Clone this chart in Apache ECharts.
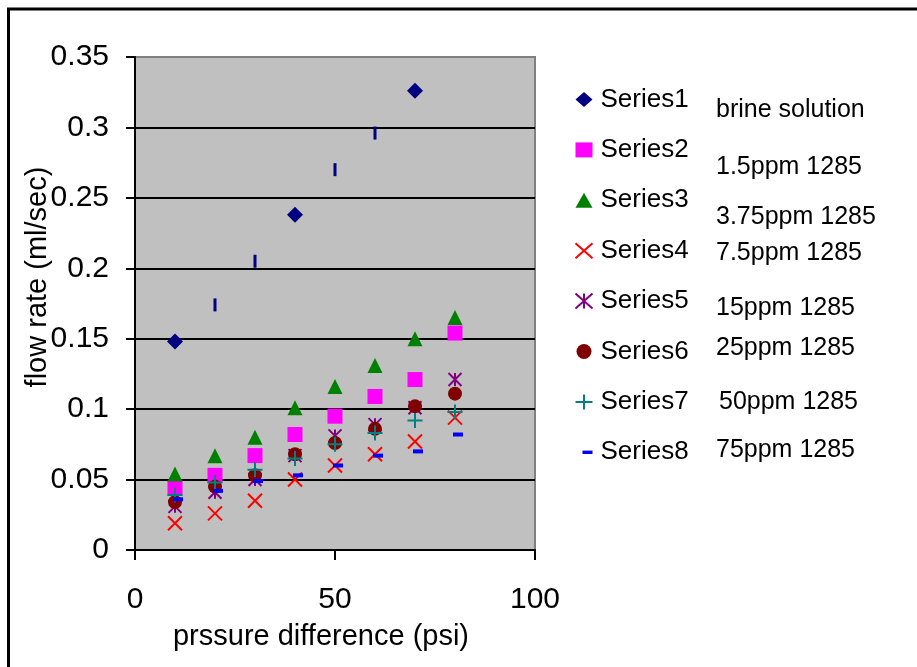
<!DOCTYPE html>
<html>
<head>
<meta charset="utf-8">
<script src="https://cdn.jsdelivr.net/npm/echarts@6/dist/echarts.min.js"></script>
<style>
  html, body { margin: 0; padding: 0; background: #fff; }
  #chart { width: 917px; height: 667px; }
</style>
</head>
<body>
<div id="chart"></div>
<script>
// ---- data ----
const pressure = [10, 20, 30, 40, 50, 60, 70, 80];
const series1X = [10, 40, 70];
const series1 = [0.148, 0.238, 0.326];
const series2 = [0.044, 0.053, 0.067, 0.082, 0.095, 0.109, 0.121, 0.154];
const series3 = [0.054, 0.067, 0.080, 0.101, 0.116, 0.131, 0.150, 0.165];
const series4 = [0.019, 0.026, 0.035, 0.050, 0.060, 0.068, 0.077, 0.094];
const series5 = [0.031, 0.041, 0.050, 0.067, 0.081, 0.089, 0.101, 0.121];
const series6 = [0.034, 0.045, 0.053, 0.068, 0.076, 0.086, 0.102, 0.111];
const series7 = [0.039, 0.048, 0.057, 0.065, 0.075, 0.083, 0.092, 0.098];
const series8 = [0.036, 0.042, 0.049, 0.053, 0.060, 0.067, 0.070, 0.082];
const extraX = [20, 30, 50, 60];
const extra = [0.174, 0.205, 0.270, 0.296];
const seriesNames = ['Series1','Series2','Series3','Series4','Series5','Series6','Series7','Series8'];
const sideLabels = ['brine solution','1.5ppm 1285','3.75ppm 1285','7.5ppm 1285','15ppm 1285','25ppm 1285','50ppm 1285','75ppm 1285'];
const xTitle = 'prssure difference (psi)';
const yTitle = 'flow rate (ml/sec)';

const FONT = "'Liberation Sans', Arial, sans-serif";
const pair = (xs, ys) => xs.map((x, i) => [x, ys[i]]);

const X_PATH = 'path://M0,0L10,10M10,0L0,10';
const PLUS_PATH = 'path://M5,0L5,10M0,5L10,5';
const AST_PATH = 'path://M0,0L10,10M10,0L0,10M5,0L5,10';

const chart = echarts.init(document.getElementById('chart'), null, { renderer: 'canvas' });

const sidePos = [
  [716, 110], [716, 167], [716, 217], [716, 253],
  [716, 308], [716, 348], [719, 402], [716, 450]
];

const option = {
  backgroundColor: '#ffffff',
  animation: false,
  grid: {
    left: 135, top: 57, right: 382, bottom: 117,
    show: true, backgroundColor: '#C0C0C0', borderColor: '#808080', borderWidth: 2
  },
  xAxis: {
    type: 'value', min: 0, max: 100, interval: 50,
    axisLine: { show: true, lineStyle: { color: '#000', width: 2 } },
    axisTick: { show: true, length: 10, lineStyle: { color: '#000', width: 2 } },
    axisLabel: { fontSize: 30, color: '#000', fontFamily: FONT, margin: 35 },
    splitLine: { show: false }
  },
  yAxis: {
    type: 'value', min: 0, max: 0.35, interval: 0.05,
    axisLine: { show: true, lineStyle: { color: '#000', width: 2 } },
    axisTick: { show: true, length: 9, lineStyle: { color: '#000', width: 2 } },
    axisLabel: { fontSize: 30, color: '#000', fontFamily: FONT, margin: 26 },
    splitLine: { show: true, showMaxLine: false, lineStyle: { color: '#000', width: 2 } }
  },
  legend: {
    orient: 'vertical', left: 574.5, top: 86.5, padding: 0,
    itemWidth: 17, itemHeight: 15, itemGap: 24.4,
    symbolKeepAspect: false,
    textStyle: { fontSize: 26, lineHeight: 26, color: '#000', fontFamily: FONT, padding: [0, 0, 0, 3] },
    data: [
      { name: 'Series1', icon: 'diamond' },
      { name: 'Series2', icon: 'rect' },
      { name: 'Series3', icon: 'triangle' },
      { name: 'Series4' },
      { name: 'Series5' },
      { name: 'Series6', icon: 'circle' },
      { name: 'Series7' },
      { name: 'Series8', icon: 'path://M0,0M17,15M7,5.8h10v3.4h-10z' }
    ]
  },
  graphic: [
    { type: 'rect', silent: true, z: 100,
      shape: { x: 8.5, y: 9, width: 1200, height: 1200 },
      style: { fill: 'none', stroke: '#000', lineWidth: 3 } },
    { type: 'text', x: 38, y: 277, rotation: Math.PI / 2, z: 100,
      style: { text: yTitle, fontSize: 29, fontFamily: FONT, fill: '#000', align: 'center', verticalAlign: 'middle' } },
    { type: 'text', x: 321, y: 637, z: 100,
      style: { text: xTitle, fontSize: 29, fontFamily: FONT, fill: '#000', align: 'center', verticalAlign: 'middle' } }
  ].concat(sideLabels.map((t, i) => ({
    type: 'text', x: sidePos[i][0], y: sidePos[i][1], z: 100,
    style: { text: t, fontSize: 25, fontFamily: FONT, fill: '#000', align: 'left', verticalAlign: 'middle' }
  }))),
  series: [
    { name: 'Series1', type: 'scatter', symbol: 'diamond', symbolSize: 16,
      itemStyle: { color: '#000080', opacity: 1 }, data: pair(series1X, series1) },
    { name: 'Series2', type: 'scatter', symbol: 'rect', symbolSize: 15,
      itemStyle: { color: '#FF00FF', opacity: 1 }, data: pair(pressure, series2) },
    { name: 'Series3', type: 'scatter', symbol: 'triangle', symbolSize: 15,
      itemStyle: { color: '#008000', opacity: 1 }, data: pair(pressure, series3) },
    { name: 'Series4', type: 'scatter', symbol: X_PATH, symbolSize: 14,
      itemStyle: { color: 'rgba(0,0,0,0)', borderColor: '#FF0000', borderWidth: 2, opacity: 1 }, data: pair(pressure, series4) },
    { name: 'Series5', type: 'scatter', symbol: AST_PATH, symbolSize: 13,
      itemStyle: { color: 'rgba(0,0,0,0)', borderColor: '#800080', borderWidth: 2, opacity: 1 }, data: pair(pressure, series5) },
    { name: 'Series6', type: 'scatter', symbol: 'circle', symbolSize: 14,
      itemStyle: { color: '#800000', opacity: 1 }, data: pair(pressure, series6) },
    { name: 'Series7', type: 'scatter', symbol: PLUS_PATH, symbolSize: 15,
      itemStyle: { color: 'rgba(0,0,0,0)', borderColor: '#008080', borderWidth: 2, opacity: 1 }, data: pair(pressure, series7) },
    { name: 'Series8', type: 'scatter', symbol: 'rect', symbolSize: [10, 4], symbolOffset: [3, 0],
      itemStyle: { color: '#0000FF', opacity: 1 }, data: pair(pressure, series8) },
    { name: 'extra', type: 'scatter', symbol: 'rect', symbolSize: [3, 13],
      itemStyle: { color: '#000080', opacity: 1 }, data: pair(extraX, extra) }
  ]
};
chart.setOption(option);
</script>
</body>
</html>
